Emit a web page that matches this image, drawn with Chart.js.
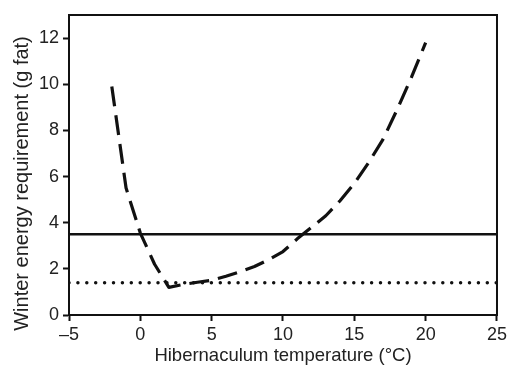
<!DOCTYPE html>
<html lang="en">
<head>
  <meta charset="UTF-8" />
  <title>Winter energy requirement</title>
  <script src="https://cdn.jsdelivr.net/npm/chart.js"></script>
  <style>
    html, body { margin: 0; padding: 0; background: #fff; }
    #wrap { width: 510px; height: 367px; }
  </style>
</head>
<body>
  <div id="wrap"><canvas id="energyChart" width="510" height="367"></canvas></div>

  <script>
    // hibernaculum temperature (°C) and fat needed (g)
    const temps  = [-2, -1, 0, 1, 2, 3, 4, 5, 6, 7, 8, 9, 10, 11, 12, 13, 14, 15, 16, 17, 18, 19, 20];
    const energy = [9.9, 5.5, 3.55, 2.2, 1.2, 1.32, 1.42, 1.5, 1.68, 1.88, 2.1, 2.4, 2.75, 3.3, 3.8, 4.3, 4.95, 5.7, 6.6, 7.6, 8.9, 10.3, 11.8];

    // horizontal reference lines
    const solidLevel  = 3.5;
    const dottedLevel = 1.4;
    const lineSpan    = [-5, 25];

    // axis ticks
    const xTicks = [-5, 0, 5, 10, 15, 20, 25];
    const yTicks = [0, 2, 4, 6, 8, 10, 12];

    const yTitle = 'Winter energy requirement (g fat)';
    const xTitle = 'Hibernaculum temperature (\u00B0C)';

    const fontFamily = "'Liberation Sans', Arial, sans-serif";
    const font = { family: fontFamily, size: 18 };

    // frame round the plot area + y title (centred on the figure, not the axis)
    const frame = {
      id: 'frame',
      afterDraw(chart) {
        const { ctx, chartArea: a } = chart;
        ctx.save();
        ctx.strokeStyle = '#111';
        ctx.lineWidth = 2;
        ctx.strokeRect(a.left, a.top, a.right - a.left, a.bottom - a.top);

        ctx.translate(22, chart.height / 2);
        ctx.rotate(-Math.PI / 2);
        ctx.fillStyle = '#222';
        ctx.font = '20px ' + fontFamily;
        ctx.textAlign = 'center';
        ctx.textBaseline = 'middle';
        ctx.fillText(yTitle, 0, 0);
        ctx.restore();
      }
    };

    const toPts = (xs, ys) => xs.map((x, i) => ({ x: x, y: ys[i] }));

    new Chart(document.getElementById('energyChart'), {
      type: 'scatter',
      data: {
        datasets: [
          {
            label: 'Solid',
            data: toPts(lineSpan, [solidLevel, solidLevel]),
            showLine: true,
            borderColor: '#111',
            borderWidth: 2.5,
            pointRadius: 0
          },
          {
            label: 'Dotted',
            data: toPts(lineSpan, [dottedLevel, dottedLevel]),
            showLine: true,
            borderColor: '#111',
            borderWidth: 3.5,
            borderDash: [0, 8.9],
            borderCapStyle: 'round',
            pointRadius: 0
          },
          {
            label: 'Requirement',
            data: toPts(temps, energy),
            showLine: true,
            borderColor: '#111',
            borderWidth: 3.2,
            borderDash: [20, 9],
            borderJoinStyle: 'round',
            pointRadius: 0
          }
        ]
      },
      options: {
        responsive: false,
        animation: false,
        layout: { padding: { left: 0, top: 15, right: 13, bottom: 0 } },
        plugins: { legend: { display: false }, tooltip: { enabled: false } },
        scales: {
          x: {
            type: 'linear',
            min: -5,
            max: 25,
            afterBuildTicks: s => { s.ticks = xTicks.map(v => ({ value: v })); },
            afterFit: s => { s.height = 52; },
            border: { display: true, color: '#111', width: 2 },
            grid: { drawOnChartArea: false, color: '#111', tickLength: 6, tickWidth: 2 },
            ticks: {
              color: '#222',
              font: font,
              padding: 3,
              maxRotation: 0,
              callback: v => String(v).replace('-', '\u2013')
            },
            title: {
              display: true,
              text: xTitle,
              color: '#222',
              font: { family: fontFamily, size: 18.5 },
              padding: { top: 0, bottom: 0 }
            }
          },
          y: {
            type: 'linear',
            min: 0,
            max: 13,
            afterBuildTicks: s => { s.ticks = yTicks.map(v => ({ value: v })); },
            afterFit: s => { s.width = 69; },
            border: { display: true, color: '#111', width: 2 },
            grid: { drawOnChartArea: false, color: '#111', tickLength: 6, tickWidth: 2 },
            ticks: { color: '#222', font: font, padding: 4 },
            title: { display: false }
          }
        }
      },
      plugins: [frame]
    });
  </script>
</body>
</html>
